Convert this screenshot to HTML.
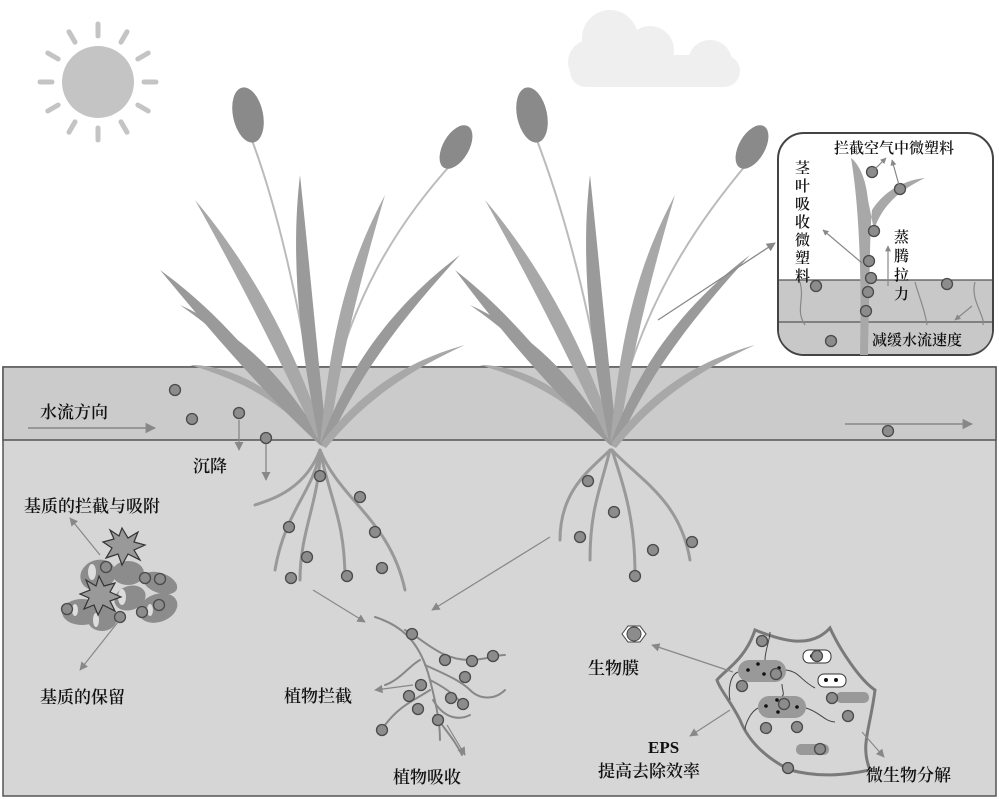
<!DOCTYPE html>
<html><head><meta charset="utf-8"><style>
html,body{margin:0;padding:0;background:#fff}
svg{display:block}
text{font-family:"Liberation Serif","Noto Serif CJK SC",serif;fill:#111;font-weight:600}
</style></head><body>
<svg width="999" height="799" viewBox="0 0 999 799" xmlns="http://www.w3.org/2000/svg">
<defs>
<marker id="a" viewBox="0 0 10 10" refX="9" refY="5" markerWidth="7" markerHeight="7" orient="auto"><path d="M0,0L10,5L0,10z" fill="#888"/></marker>
<marker id="b" viewBox="0 0 10 10" refX="9" refY="5" markerWidth="5" markerHeight="5" orient="auto"><path d="M0,0L10,5L0,10z" fill="#888"/></marker>
<g id="p"><circle r="5.5" fill="#8c8c8c" stroke="#4a4a4a" stroke-width="1.3"/></g>
</defs>
<g transform="translate(98,82)" stroke="#c4c4c4" stroke-width="5" stroke-linecap="round">
<circle r="36" fill="#c4c4c4" stroke="none"/>
<g id="ray"><line x1="0" y1="-46" x2="0" y2="-58"/></g>
<use href="#ray" transform="rotate(30)"/><use href="#ray" transform="rotate(60)"/><use href="#ray" transform="rotate(90)"/><use href="#ray" transform="rotate(120)"/><use href="#ray" transform="rotate(150)"/><use href="#ray" transform="rotate(180)"/><use href="#ray" transform="rotate(210)"/><use href="#ray" transform="rotate(240)"/><use href="#ray" transform="rotate(270)"/><use href="#ray" transform="rotate(300)"/><use href="#ray" transform="rotate(330)"/>
</g>
<g fill="#efefef"><circle cx="610" cy="38" r="28"/><circle cx="650" cy="50" r="24"/><circle cx="590" cy="62" r="22"/><rect x="570" y="55" width="170" height="32" rx="16"/><circle cx="710" cy="62" r="22"/></g>
<rect x="3" y="367" width="993" height="429" fill="#d6d6d6" stroke="#555" stroke-width="1.5"/>
<rect x="3" y="367" width="993" height="73" fill="#cbcbcb" stroke="#555" stroke-width="1.5"/>
<g fill="none" stroke-linecap="round">
<path d="M320,440 C300,300 275,200 250,135" stroke="#bbb" stroke-width="2"/>
<path d="M320,440 C345,300 400,220 455,160" stroke="#bbb" stroke-width="2"/>
</g>
<ellipse cx="248" cy="115" rx="15" ry="28" fill="#8a8a8a" transform="rotate(-12 248 115)"/>
<ellipse cx="456" cy="147" rx="13" ry="24" fill="#8a8a8a" transform="rotate(30 456 147)"/>
<g fill="#9a9a9a">
<path d="M320,445 C270,380 230,340 180,305 C235,330 280,370 322,440z"/>
<path d="M320,445 C280,360 240,280 195,200 C255,270 300,360 325,440z" fill="#a8a8a8"/>
<path d="M320,445 C300,350 290,260 300,175 C310,270 318,360 327,440z"/>
<path d="M320,445 C330,340 345,270 385,195 C360,280 340,360 328,445z" fill="#a8a8a8"/>
<path d="M320,445 C350,360 400,300 460,255 C410,310 360,370 328,445z"/>
<path d="M320,445 C360,390 410,360 465,345 C410,370 365,400 326,448z" fill="#a8a8a8"/>
<path d="M320,445 C280,400 240,380 190,365 C240,365 290,400 322,445z" fill="#a8a8a8"/>
<path d="M320,445 C260,390 210,330 160,270 C230,320 280,390 323,445z"/>
</g>
<g fill="none" stroke="#999" stroke-width="3" stroke-linecap="round">
<path d="M320,450 C315,490 285,510 275,570"/><path d="M320,450 C320,500 300,530 300,580"/>
<path d="M320,450 C330,500 345,520 345,580"/><path d="M320,450 C340,500 390,520 405,590"/>
<path d="M320,450 C305,490 270,500 255,505"/>
</g>
<g fill="none"><path d="M610,440 C590,300 560,200 535,135" stroke="#bbb" stroke-width="2"/>
<path d="M610,440 C640,300 700,220 750,160" stroke="#bbb" stroke-width="2"/></g>
<ellipse cx="532" cy="115" rx="15" ry="28" fill="#8a8a8a" transform="rotate(-12 532 115)"/>
<ellipse cx="752" cy="147" rx="13" ry="24" fill="#8a8a8a" transform="rotate(30 752 147)"/>
<g fill="#9a9a9a">
<path d="M610,445 C560,380 520,340 470,305 C525,330 570,370 612,440z"/>
<path d="M610,445 C570,360 530,280 485,200 C545,270 590,360 615,440z" fill="#a8a8a8"/>
<path d="M610,445 C590,350 580,260 590,175 C600,270 608,360 617,440z"/>
<path d="M610,445 C620,340 635,270 675,195 C650,280 630,360 618,445z" fill="#a8a8a8"/>
<path d="M610,445 C640,360 690,300 750,255 C700,310 650,370 618,445z"/>
<path d="M610,445 C650,390 700,360 755,345 C700,370 655,400 616,448z" fill="#a8a8a8"/>
<path d="M610,445 C570,400 530,380 480,365 C530,365 580,400 612,445z" fill="#a8a8a8"/>
<path d="M610,445 C550,390 500,330 455,270 C520,320 570,390 613,445z"/>
</g>
<g fill="none" stroke="#999" stroke-width="3" stroke-linecap="round">
<path d="M610,450 C590,470 560,490 560,540"/><path d="M610,450 C600,490 590,510 590,560"/>
<path d="M612,450 C625,490 635,520 635,575"/><path d="M612,450 C640,480 680,500 690,560"/>
</g>
<line x1="658" y1="320" x2="775" y2="243" stroke="#888" stroke-width="1.3" marker-end="url(#a)"/>
<rect x="778" y="133" width="215" height="222" rx="26" fill="#fff" stroke="#444" stroke-width="2"/>
<path d="M779,280 H992 V330 C992,345 980,354 966,354 H806 C792,354 779,345 779,330z" fill="#c8c8c8"/>
<line x1="779" y1="280" x2="992" y2="280" stroke="#555" stroke-width="1.3"/>
<line x1="779" y1="322" x2="992" y2="322" stroke="#555" stroke-width="1.3"/>
<path d="M851,158 C858,200 862,260 860,355 L868,355 C870,260 870,230 872,210 C885,190 905,180 925,178 C900,190 882,205 874,230 L868,200 C866,180 860,165 851,158z" fill="#a8a8a8"/>
<g fill="none" stroke="#888" stroke-width="1.2"><path d="M800,282 C805,300 795,310 805,325"/><path d="M915,282 C920,300 925,310 927,325"/><path d="M975,282 C970,300 985,315 983,325"/></g>
<use href="#p" x="872" y="172"/><use href="#p" x="900" y="189"/><use href="#p" x="874" y="231"/><use href="#p" x="869" y="261"/><use href="#p" x="871" y="278"/><use href="#p" x="868" y="292"/><use href="#p" x="866" y="311"/><use href="#p" x="816" y="286"/><use href="#p" x="947" y="284"/><use href="#p" x="831" y="341"/>
<g stroke="#888" stroke-width="1.2" fill="none"><line x1="874" y1="170" x2="886" y2="158" marker-end="url(#b)"/><line x1="899" y1="185" x2="892" y2="160" marker-end="url(#b)"/>
<line x1="862" y1="263" x2="823" y2="230" marker-end="url(#b)"/><line x1="888" y1="286" x2="888" y2="246" marker-end="url(#b)"/><line x1="972" y1="306" x2="955" y2="320" marker-end="url(#b)"/></g>
<text x="834" y="153" font-size="15">拦截空气中微塑料</text>
<text font-size="15"><tspan x="795" y="173">茎</tspan><tspan x="795" y="191">叶</tspan><tspan x="795" y="209">吸</tspan><tspan x="795" y="227">收</tspan><tspan x="795" y="245">微</tspan><tspan x="795" y="263">塑</tspan><tspan x="795" y="281">料</tspan></text>
<text font-size="15"><tspan x="894" y="242">蒸</tspan><tspan x="894" y="261">腾</tspan><tspan x="894" y="280">拉</tspan><tspan x="894" y="299">力</tspan></text>
<text x="872" y="345" font-size="15">减缓水流速度</text>
<text x="40" y="418" font-size="17">水流方向</text>
<line x1="28" y1="428" x2="155" y2="428" stroke="#888" stroke-width="1.5" marker-end="url(#a)"/>
<line x1="845" y1="424" x2="972" y2="424" stroke="#888" stroke-width="1.5" marker-end="url(#a)"/>
<use href="#p" x="175" y="390"/><use href="#p" x="192" y="419"/><use href="#p" x="239" y="413"/><use href="#p" x="266" y="438"/><use href="#p" x="888" y="431"/>
<line x1="239" y1="420" x2="239" y2="450" stroke="#888" stroke-width="1.3" marker-end="url(#a)"/>
<line x1="266" y1="444" x2="266" y2="480" stroke="#888" stroke-width="1.3" marker-end="url(#a)"/>
<text x="193" y="472" font-size="17">沉降</text>
<text x="24" y="512" font-size="17">基质的拦截与吸附</text>
<g fill="#8c8c8c">
<ellipse cx="98" cy="575" rx="18" ry="15" transform="rotate(-20 98 575)"/><ellipse cx="128" cy="573" rx="16" ry="12"/><ellipse cx="160" cy="583" rx="18" ry="10" transform="rotate(20 160 583)"/>
<ellipse cx="82" cy="612" rx="20" ry="13"/><ellipse cx="102" cy="618" rx="15" ry="13"/><ellipse cx="130" cy="598" rx="16" ry="12" transform="rotate(-20 130 598)"/><ellipse cx="158" cy="608" rx="20" ry="14" transform="rotate(-20 158 608)"/>
</g>
<g fill="#ddd"><ellipse cx="92" cy="572" rx="4" ry="8"/><ellipse cx="122" cy="597" rx="4" ry="8"/><ellipse cx="75" cy="610" rx="3" ry="6"/><ellipse cx="96" cy="620" rx="3" ry="7"/><ellipse cx="150" cy="610" rx="3" ry="6"/></g>
<g fill="#999" stroke="#333" stroke-width="1.2"><polygon points="122,528 128,538 138,532 134,542 145,545 134,550 140,560 128,554 122,565 118,554 106,558 112,548 103,542 114,539 110,530 119,536"/>
<polygon points="99,576 104,586 115,583 110,592 121,597 110,601 115,611 103,605 98,615 94,605 84,609 89,598 80,594 90,590 86,580 96,586"/></g>
<use href="#p" x="106" y="567"/><use href="#p" x="145" y="578"/><use href="#p" x="160" y="579"/><use href="#p" x="67" y="609"/><use href="#p" x="159" y="605"/><use href="#p" x="142" y="612"/><use href="#p" x="120" y="617"/>
<line x1="100" y1="555" x2="70" y2="518" stroke="#888" stroke-width="1.2" marker-end="url(#a)"/>
<line x1="118" y1="622" x2="80" y2="670" stroke="#888" stroke-width="1.2" marker-end="url(#a)"/>
<text x="40" y="703" font-size="17">基质的保留</text>
<use href="#p" x="320" y="476"/><use href="#p" x="360" y="497"/><use href="#p" x="289" y="527"/><use href="#p" x="375" y="532"/><use href="#p" x="307" y="557"/><use href="#p" x="291" y="578"/><use href="#p" x="347" y="576"/><use href="#p" x="382" y="568"/>
<use href="#p" x="588" y="481"/><use href="#p" x="614" y="512"/><use href="#p" x="580" y="537"/><use href="#p" x="653" y="550"/><use href="#p" x="692" y="542"/><use href="#p" x="635" y="576"/>
<line x1="313" y1="590" x2="365" y2="622" stroke="#888" stroke-width="1.2" marker-end="url(#a)"/>
<line x1="550" y1="537" x2="432" y2="610" stroke="#888" stroke-width="1.2" marker-end="url(#a)"/>
<g fill="none" stroke="#888" stroke-width="2" stroke-linecap="round">
<path d="M375,617 C400,625 420,640 430,680 C435,700 440,720 440,740"/>
<path d="M405,630 C425,640 440,660 470,660 C485,660 495,655 505,655"/><path d="M425,665 C440,672 460,680 470,690 C480,700 495,700 505,690"/>
<path d="M420,660 C410,665 400,680 385,685"/><path d="M430,690 C415,700 400,705 385,725"/><path d="M435,715 C445,730 455,740 462,755"/><path d="M433,700 C445,720 460,720 470,715"/><path d="M430,680 C450,690 460,700 462,705"/>
</g>
<use href="#p" x="412" y="634"/><use href="#p" x="445" y="660"/><use href="#p" x="472" y="661"/><use href="#p" x="493" y="656"/><use href="#p" x="465" y="677"/><use href="#p" x="421" y="685"/><use href="#p" x="451" y="698"/><use href="#p" x="409" y="696"/><use href="#p" x="463" y="704"/><use href="#p" x="438" y="720"/><use href="#p" x="418" y="709"/><use href="#p" x="382" y="730"/>
<line x1="413" y1="685" x2="375" y2="690" stroke="#888" stroke-width="1.2" marker-end="url(#a)"/>
<line x1="447" y1="725" x2="465" y2="755" stroke="#888" stroke-width="1.2" marker-end="url(#a)"/>
<text x="284" y="702" font-size="17">植物拦截</text>
<text x="393" y="783" font-size="17">植物吸收</text>
<polygon points="622,634 628,626 640,626 646,634 640,642 628,642" fill="#fff" stroke="#444"/>
<circle cx="634" cy="634" r="7" fill="#8c8c8c" stroke="#444"/>
<text x="588" y="674" font-size="17">生物膜</text>
<path d="M755,630 C780,640 810,650 830,628 C840,650 860,680 875,690 C870,730 860,745 870,770 C845,775 820,778 790,770 C770,760 750,745 740,720 C730,700 720,690 717,680 C725,670 745,660 755,630z" fill="#d6d6d6" stroke="#7a7a7a" stroke-width="3"/>
<rect x="738" y="660" width="48" height="22" rx="11" fill="#999"/>
<rect x="758" y="696" width="48" height="22" rx="11" fill="#999"/>
<rect x="803" y="650" width="28" height="13" rx="6" fill="#fff" stroke="#333"/>
<rect x="818" y="674" width="28" height="13" rx="6" fill="#fff" stroke="#333"/>
<rect x="836" y="692" width="33" height="11" rx="5" fill="#999"/>
<rect x="796" y="744" width="33" height="11" rx="5" fill="#999"/>
<g fill="#111"><circle cx="748" cy="670" r="1.8"/><circle cx="758" cy="664" r="1.8"/><circle cx="764" cy="674" r="1.8"/><circle cx="779" cy="668" r="1.8"/><circle cx="766" cy="706" r="1.8"/><circle cx="777" cy="700" r="1.8"/><circle cx="797" cy="707" r="1.8"/><circle cx="778" cy="712" r="1.8"/><circle cx="826" cy="680" r="2"/><circle cx="836" cy="680" r="2"/><circle cx="812" cy="656" r="2"/></g>
<g fill="none" stroke="#444" stroke-width="1"><path d="M765,660 C765,650 770,640 770,632"/><path d="M738,672 C730,675 728,690 730,700"/><path d="M786,670 C800,672 800,680 815,688"/><path d="M782,684 C782,690 785,695 782,696"/><path d="M758,708 C750,712 745,725 745,730"/><path d="M806,708 C820,712 825,722 835,722"/></g>
<use href="#p" x="762" y="641"/><use href="#p" x="742" y="686"/><use href="#p" x="776" y="674"/><use href="#p" x="784" y="704"/><use href="#p" x="832" y="698"/><use href="#p" x="848" y="716"/><use href="#p" x="766" y="728"/><use href="#p" x="797" y="727"/><use href="#p" x="820" y="749"/><use href="#p" x="788" y="768"/><use href="#p" x="817" y="656"/>
<line x1="733" y1="672" x2="652" y2="645" stroke="#888" stroke-width="1.2" marker-end="url(#a)"/>
<line x1="730" y1="710" x2="690" y2="736" stroke="#888" stroke-width="1.2" marker-end="url(#a)"/>
<line x1="862" y1="732" x2="884" y2="757" stroke="#888" stroke-width="1.2" marker-end="url(#a)"/>
<text x="648" y="753" font-size="17">EPS</text>
<text x="598" y="777" font-size="17">提高去除效率</text>
<text x="866" y="781" font-size="17">微生物分解</text>
</svg>
</body></html>
